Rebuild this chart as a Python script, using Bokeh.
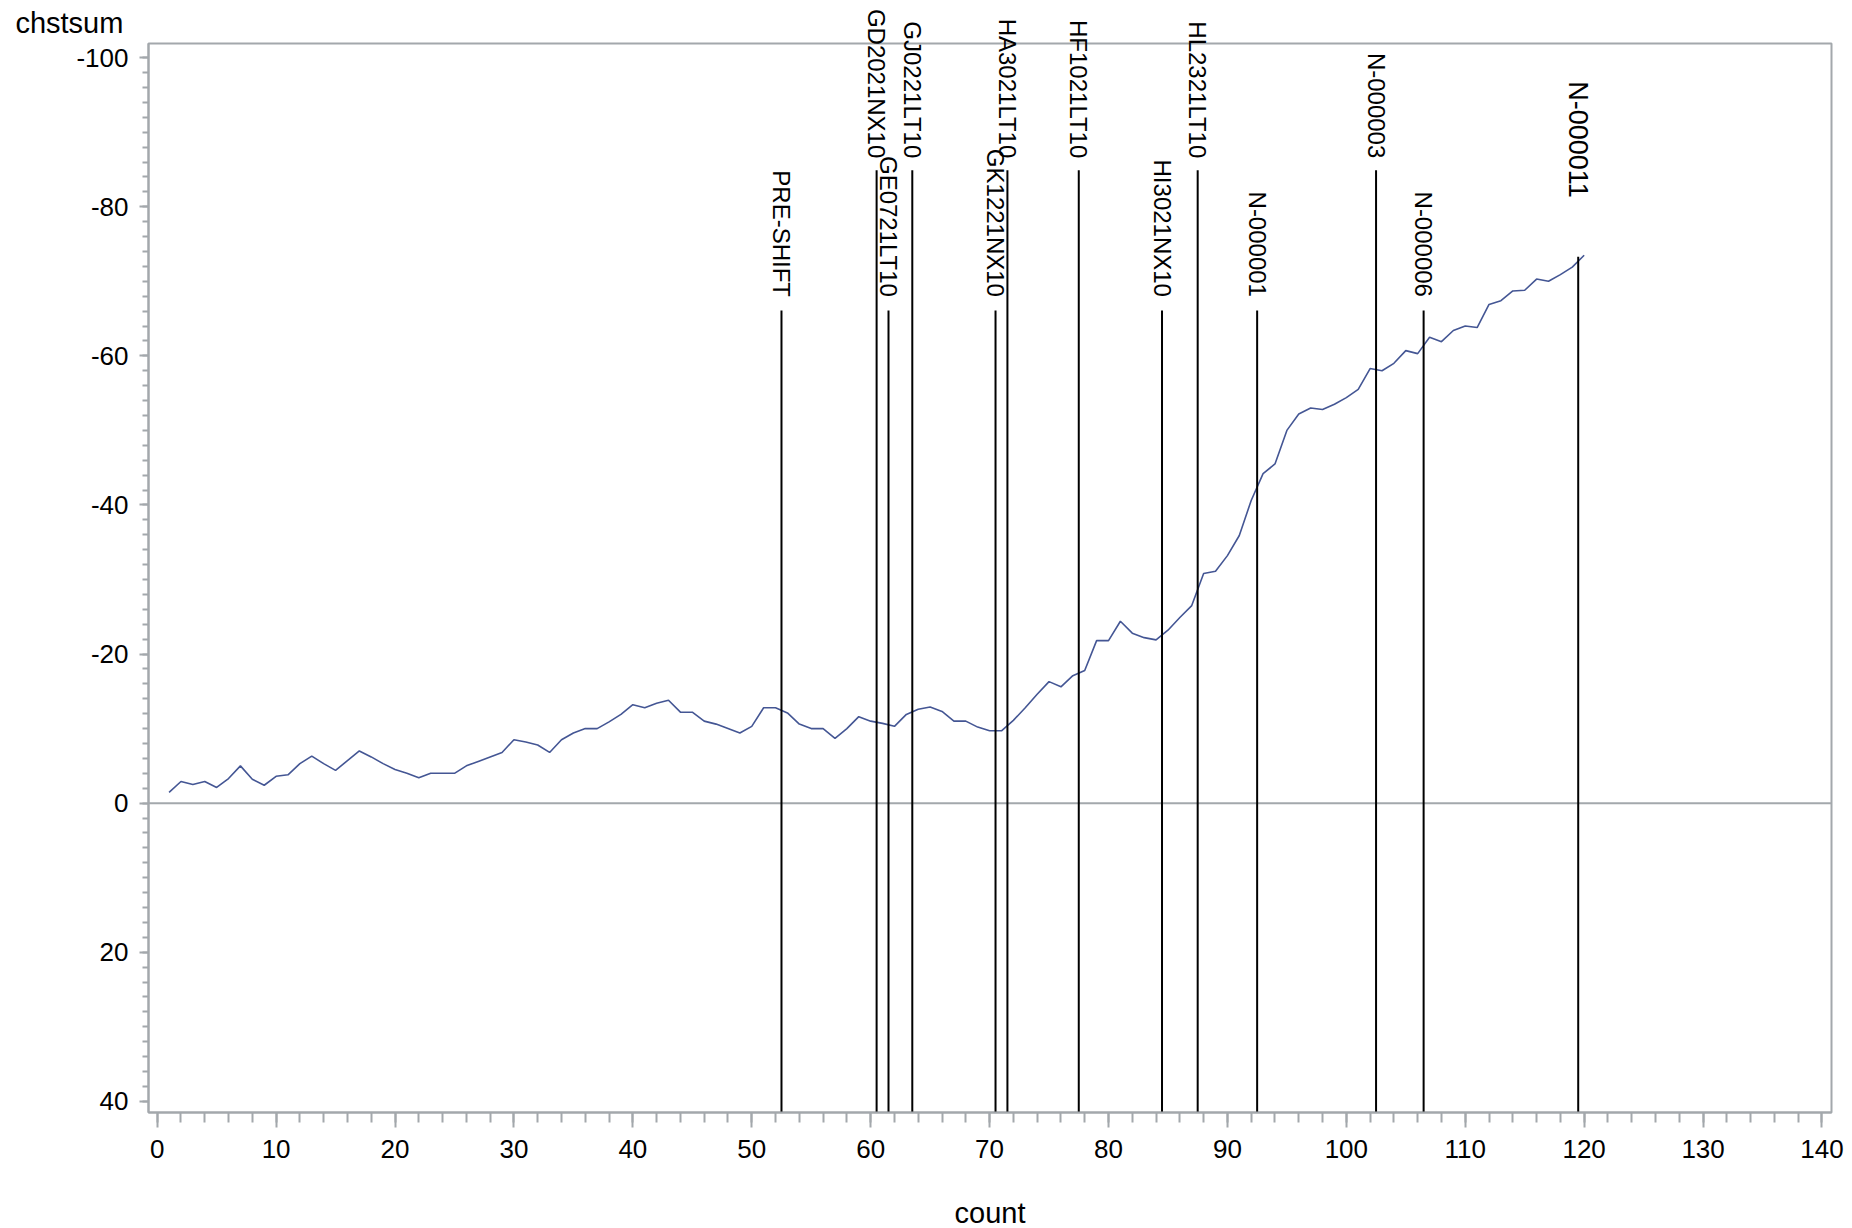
import math
from bokeh.plotting import figure
from bokeh.models import Range1d, FixedTicker, Span, ColumnDataSource
from bokeh.core.properties import value
from bokeh.embed import file_html
from bokeh.resources import INLINE

# cumulative sum series by observation count
count = list(range(1, 121))
chstsum = [
    -1.45, -2.9, -2.5, -2.9, -2.1, -3.3, -5.0, -3.2, -2.4, -3.6,
    -3.8, -5.3, -6.3, -5.3, -4.4, -5.7, -7.0, -6.2, -5.3, -4.5,
    -4.0, -3.4, -4.0, -4.0, -4.0, -5.0, -5.6, -6.2, -6.8, -8.5,
    -8.2, -7.8, -6.8, -8.5, -9.4, -10.0, -10.0, -10.9, -11.9, -13.2,
    -12.8, -13.4, -13.8, -12.2, -12.2, -11.0, -10.6, -10.0, -9.4, -10.3,
    -12.8, -12.8, -12.1, -10.6, -10.0, -10.0, -8.7, -10.0, -11.6, -11.0,
    -10.7, -10.3, -11.9, -12.6, -12.9, -12.3, -11.0, -11.0, -10.2, -9.7,
    -9.7, -11.1, -12.8, -14.6, -16.3, -15.6, -17.1, -17.8, -21.8, -21.8,
    -24.4, -22.8, -22.2, -21.9, -23.2, -24.9, -26.5, -30.8, -31.1, -33.2,
    -35.9, -40.6, -44.2, -45.5, -50.0, -52.2, -53.0, -52.8, -53.5, -54.4,
    -55.5, -58.3, -58.0, -59.0, -60.7, -60.3, -62.5, -61.9, -63.4, -64.0,
    -63.8, -66.9, -67.4, -68.7, -68.8, -70.3, -70.0, -70.9, -71.9, -73.5,
]

# marked change points: position, name, needle top, label end
event_x = [52.5, 60.5, 61.5, 63.5, 70.5, 71.5, 77.5, 84.5, 87.5, 92.5, 102.5, 106.5, 119.5]
event_name = ["PRE-SHIFT", "GD2021NX10", "GE0721LT10", "GJ0221LT10", "GK1221NX10",
              "HA3021LT10", "HF1021LT10", "HI3021NX10", "HL2321LT10", "N-000001",
              "N-000003", "N-000006", "N-000011"]
event_top = [-66.1, -84.9, -66.1, -84.9, -66.1, -84.9, -84.9, -66.1, -84.9, -66.1, -84.9, -66.1, -73.3]
event_label_y = [-67.9, -86.5, -67.9, -86.5, -67.9, -86.5, -86.5, -67.9, -86.5, -67.9, -86.5, -67.9, -81.2]
event_font_size = ["24px"] * 12 + ["27px"]

x_ticks = list(range(0, 141, 10))
x_minor = list(range(0, 141, 2))
y_ticks = [-100, -80, -60, -40, -20, 0, 20, 40]
y_tick_labels = ["-100", "-80", "-60", "-40", "-20", "0", "20", "40"]
y_minor = list(range(-100, 41, 2))

Y_BOTTOM, Y_TOP = 41.5, -101.9
X_LEFT, X_RIGHT = -0.73, 140.8

FONT = "Liberation Sans"
GRAY = "#a3a8ac"

p = figure(width=1852, height=1228,
           x_range=Range1d(X_LEFT, X_RIGHT), y_range=Range1d(Y_BOTTOM, Y_TOP),
           output_backend="svg", toolbar_location=None,
           min_border_left=148, min_border_right=21, min_border_top=43, min_border_bottom=116,
           background_fill_color="white", border_fill_color="white")
p.grid.visible = False
p.outline_line_color = GRAY
p.outline_line_width = 2

for ax in (p.xaxis[0], p.yaxis[0]):
    ax.axis_line_color = GRAY
    ax.axis_line_width = 2
    ax.major_tick_line_color = GRAY
    ax.major_tick_line_width = 2
    ax.minor_tick_line_color = GRAY
    ax.minor_tick_line_width = 2
    ax.major_tick_in = 0
    ax.minor_tick_in = 0
    ax.major_label_text_font = FONT
    ax.major_label_text_font_size = "26px"
    ax.major_label_text_color = "black"

p.xaxis.ticker = FixedTicker(ticks=x_ticks, minor_ticks=x_minor)
p.xaxis.major_tick_out = 15
p.xaxis.minor_tick_out = 10
p.xaxis.major_label_standoff = 12

p.yaxis.ticker = FixedTicker(ticks=y_ticks, minor_ticks=y_minor)
p.yaxis.major_label_overrides = dict(zip(y_ticks, y_tick_labels))
p.yaxis.major_tick_out = 9
p.yaxis.minor_tick_out = 6
p.yaxis.major_label_standoff = 11

# reference line at zero
p.add_layout(Span(location=0, dimension="width", line_color=GRAY, line_width=2, level="underlay"))

# the series
p.line(count, chstsum, line_color="#445694", line_width=1.6)

# needles for the change points
ev = ColumnDataSource(dict(x=event_x, base=[Y_BOTTOM] * len(event_x), top=event_top,
                           name=event_name, ly=event_label_y, fs=event_font_size))
p.segment(x0="x", y0="base", x1="x", y1="top", source=ev, line_color="black", line_width=2)

# rotated names above each needle (drawn on the overlay level so they may run past the frame)
p.text(x="x", y="ly", text="name", source=ev, angle=-math.pi / 2,
       text_align="right", text_baseline="middle",
       text_font=value(FONT), text_font_size="fs", text_color="black", level="overlay")

# axis titles
p.text(x=[-11.92], y=[-104.6], text=["chstsum"], text_align="left",
       text_baseline="alphabetic", text_font=value(FONT), text_font_size=value("29px"),
       text_color="black", level="overlay")
p.text(x=[(X_LEFT + X_RIGHT) / 2], y=[55.0], text=["count"], text_align="center",
       text_baseline="alphabetic", text_font=value(FONT), text_font_size=value("29px"),
       text_color="black", level="overlay")

open("out.html", "w").write(file_html(p, INLINE))
